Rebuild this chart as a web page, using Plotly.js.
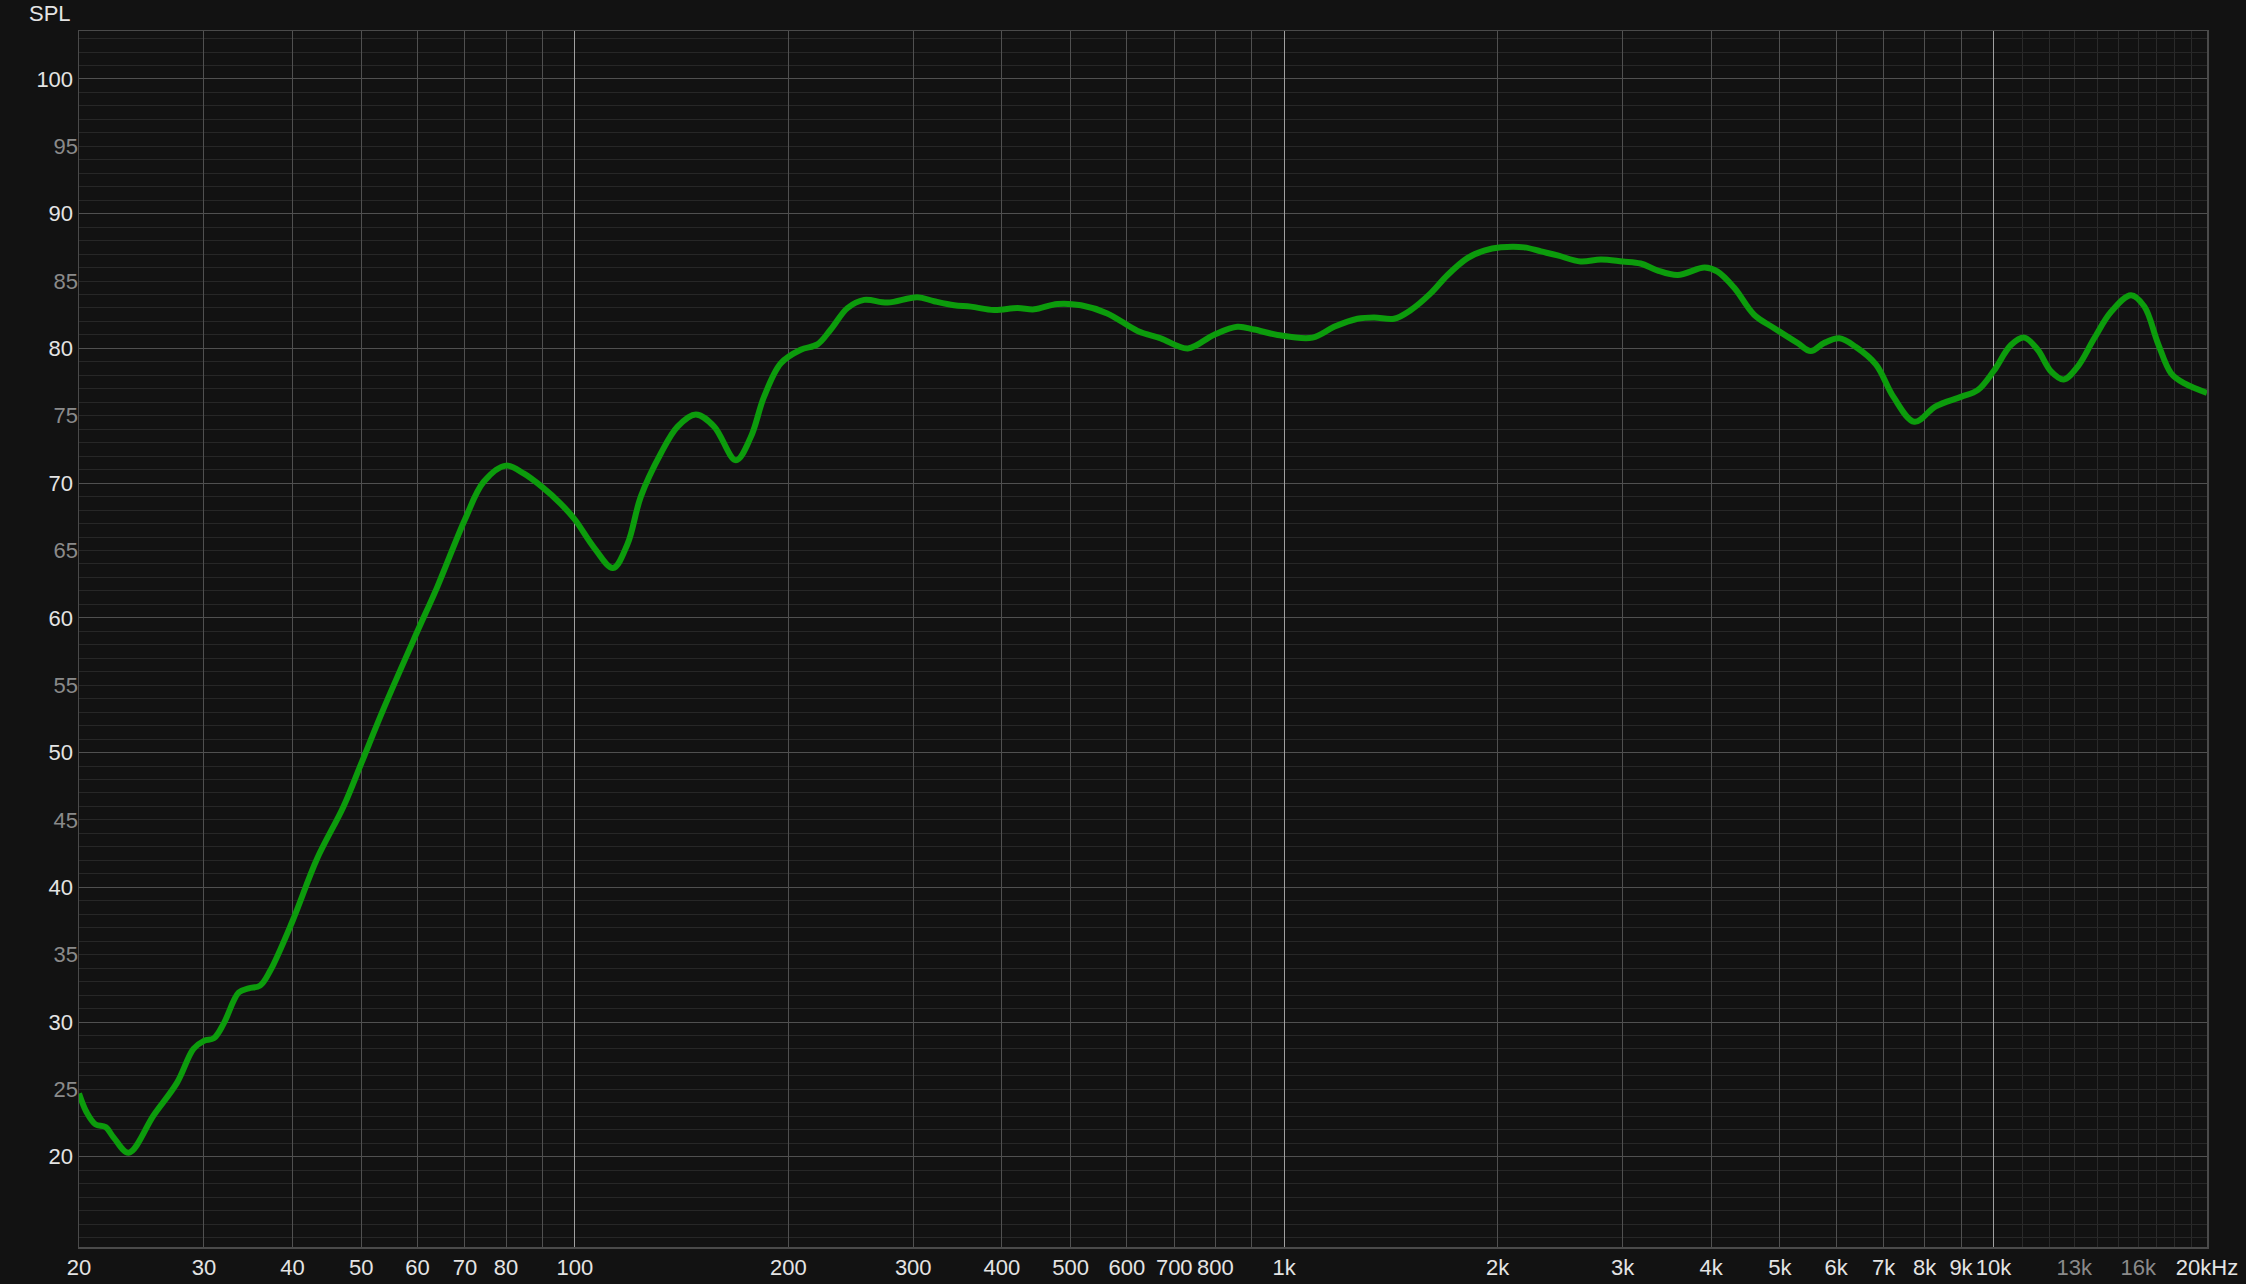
<!DOCTYPE html>
<html>
<head>
<meta charset="utf-8">
<script src="https://cdn.plot.ly/plotly-3.0.1.min.js"></script>
<style>
html,body{margin:0;padding:0;background:#121212;}
#chart{width:2246px;height:1284px;}
</style>
</head>
<body>
<div id="chart"></div>
<script>
// Frequency response data (Hz, dB SPL)
const freqs = [20,20.5,21.1,21.8,22.4,23.5,25.5,27.5,29.0,30,31.0,32.0,33.6,34.7,36.0,37.2,40,43.3,47.2,50,53.8,60,64,70,74.4,80,84.8,90,95.4,100,106.5,113.2,118.7,123.9,132.2,139.6,148.1,157.2,168.7,177,184.8,195.2,208.2,219.8,229.5,242.4,255.8,276,304,321,342.6,361.7,390,420.8,444.3,479.1,517.2,563.2,621.5,670,731.4,795.8,859,907,978.8,1096.6,1176,1269,1339,1429,1509,1610,1700,1813,1914,2021,2180,2302,2430,2618,2796,3000,3181,3356,3588,3916,4083,4311,4597,4908,5295,5526,5771,6064,6398,6830,7228,7737,8290,9000,9500,10000,10585,11050,11544,12052,12560,13144,13870,14640,15630,16325,17050,17800,18590,20000];
const spl = [24.7,23.3,22.4,22.2,21.4,20.3,23.1,25.5,28.0,28.6,28.8,29.9,32.2,32.5,32.7,33.8,37.5,42.1,46.0,49.2,53.3,59.0,62.3,67.3,70.1,71.3,70.7,69.7,68.5,67.3,65.2,63.7,65.5,69.0,72.2,74.2,75.1,74.2,71.7,73.4,76.4,78.9,79.9,80.3,81.4,83.0,83.6,83.4,83.8,83.5,83.2,83.1,82.85,83.0,82.9,83.3,83.2,82.6,81.3,80.75,80.0,81.0,81.6,81.4,81.0,80.8,81.6,82.2,82.3,82.2,82.85,84.1,85.45,86.7,87.25,87.5,87.5,87.2,86.9,86.45,86.6,86.45,86.3,85.8,85.45,86.0,85.7,84.5,82.5,81.5,80.4,79.8,80.4,80.75,80.1,78.8,76.4,74.55,75.7,76.4,76.9,78.3,80.25,80.8,79.9,78.3,77.7,78.65,80.75,82.7,83.95,83.1,80.4,78.15,77.4,76.7];

// X tick labels
const xTickVals = [20,30,40,50,60,70,80,100,200,300,400,500,600,700,800,1000,2000,3000,4000,5000,6000,7000,8000,9000,10000,13000,16000,20000];
const xTickText = ["20","30","40","50","60","70","80","100","200","300","400","500","600","700","800","1k","2k","3k","4k","5k","6k","7k","8k","9k","10k","13k","16k","20kHz"];
const xDimLabels = ["13k","16k"];
// Vertical grid groups
const xGridMid = [30,40,50,60,70,80,90,200,300,400,500,600,700,800,900,2000,3000,4000,5000,6000,7000,8000,9000];
const xGridDecade = [100,1000,10000];
const xGridFine = [11000,12000,13000,14000,15000,16000,17000,18000,19000];
// Y tick labels
const yTickMain = [20,30,40,50,60,70,80,90,100];
const yTickHalf = [25,35,45,55,65,75,85,95];

const xRange = [Math.log10(20), Math.log10(20000)];
const yRange = [13.3, 103.56];

const txt = '#e4e4e4';
const dim = '#8a8a8a';
const fontFam = 'Liberation Sans, Arial, sans-serif';
const fs = 22;

const trace = {
  x: freqs, y: spl, type: 'scatter', mode: 'lines',
  line: {color: '#0c9c0c', width: 6, shape: 'spline', smoothing: 1},
  xaxis: 'x', yaxis: 'y', hoverinfo: 'skip'
};
// invisible helper traces so overlay axes are instantiated
const helperX2 = {x: [20], y: [50], xaxis: 'x2', yaxis: 'y', mode: 'markers', marker: {opacity: 0}, hoverinfo: 'skip'};
const helperX3 = {x: [20], y: [50], xaxis: 'x3', yaxis: 'y', mode: 'markers', marker: {opacity: 0}, hoverinfo: 'skip'};
const helperY2 = {x: [20], y: [50], xaxis: 'x', yaxis: 'y2', mode: 'markers', marker: {opacity: 0}, hoverinfo: 'skip'};

const layout = {
  width: 2246, height: 1284,
  paper_bgcolor: '#121212', plot_bgcolor: '#121212',
  margin: {l: 79, r: 39, t: 31, b: 37},
  showlegend: false,
  font: {family: fontFam, size: fs, color: txt},
  xaxis: {
    type: 'log', range: xRange,
    tickmode: 'array', tickvals: xTickVals,
    ticktext: xTickText.map(t => xDimLabels.includes(t) ? '<span style="color:' + dim + '">' + t + '</span>' : t),
    tickfont: {family: fontFam, size: fs, color: txt},
    ticks: '', showgrid: false, zeroline: false,
    showline: true, mirror: true, linecolor: '#4a4a4a', linewidth: 1.5,
    minor: {tickmode: 'array', tickvals: xGridFine, showgrid: true, gridcolor: '#2a2a2a', gridwidth: 1, ticks: ''},
    fixedrange: true
  },
  xaxis2: {
    type: 'log', range: xRange, overlaying: 'x',
    tickmode: 'array', tickvals: xGridMid, showticklabels: false, ticks: '',
    showgrid: true, gridcolor: '#505050', gridwidth: 1, zeroline: false, showline: false
  },
  xaxis3: {
    type: 'log', range: xRange, overlaying: 'x',
    tickmode: 'array', tickvals: xGridDecade, showticklabels: false, ticks: '',
    showgrid: true, gridcolor: '#a0a0a0', gridwidth: 1, zeroline: false, showline: false
  },
  yaxis: {
    range: yRange, tickmode: 'array', tickvals: yTickMain,
    tickfont: {family: fontFam, size: fs, color: txt},
    ticks: '', showgrid: true, gridcolor: '#505050', gridwidth: 1, zeroline: false,
    showline: true, mirror: true, linecolor: '#4a4a4a', linewidth: 1.5,
    minor: {dtick: 1, showgrid: true, gridcolor: '#272727', gridwidth: 1, ticks: ''},
    fixedrange: true
  },
  yaxis2: {
    range: yRange, overlaying: 'y', side: 'left',
    tickmode: 'array', tickvals: yTickHalf,
    tickfont: {family: fontFam, size: fs, color: dim},
    ticks: '', showgrid: false, zeroline: false, showline: false
  },
  annotations: [{
    text: 'SPL', xref: 'paper', yref: 'paper', x: 0, y: 1,
    xanchor: 'right', yanchor: 'middle', xshift: -6, yshift: 18,
    showarrow: false, font: {family: fontFam, size: fs, color: txt}
  }]
};

Plotly.newPlot('chart', [helperX2, helperX3, helperY2, trace], layout, {displayModeBar: false, staticPlot: true});
</script>
</body>
</html>
